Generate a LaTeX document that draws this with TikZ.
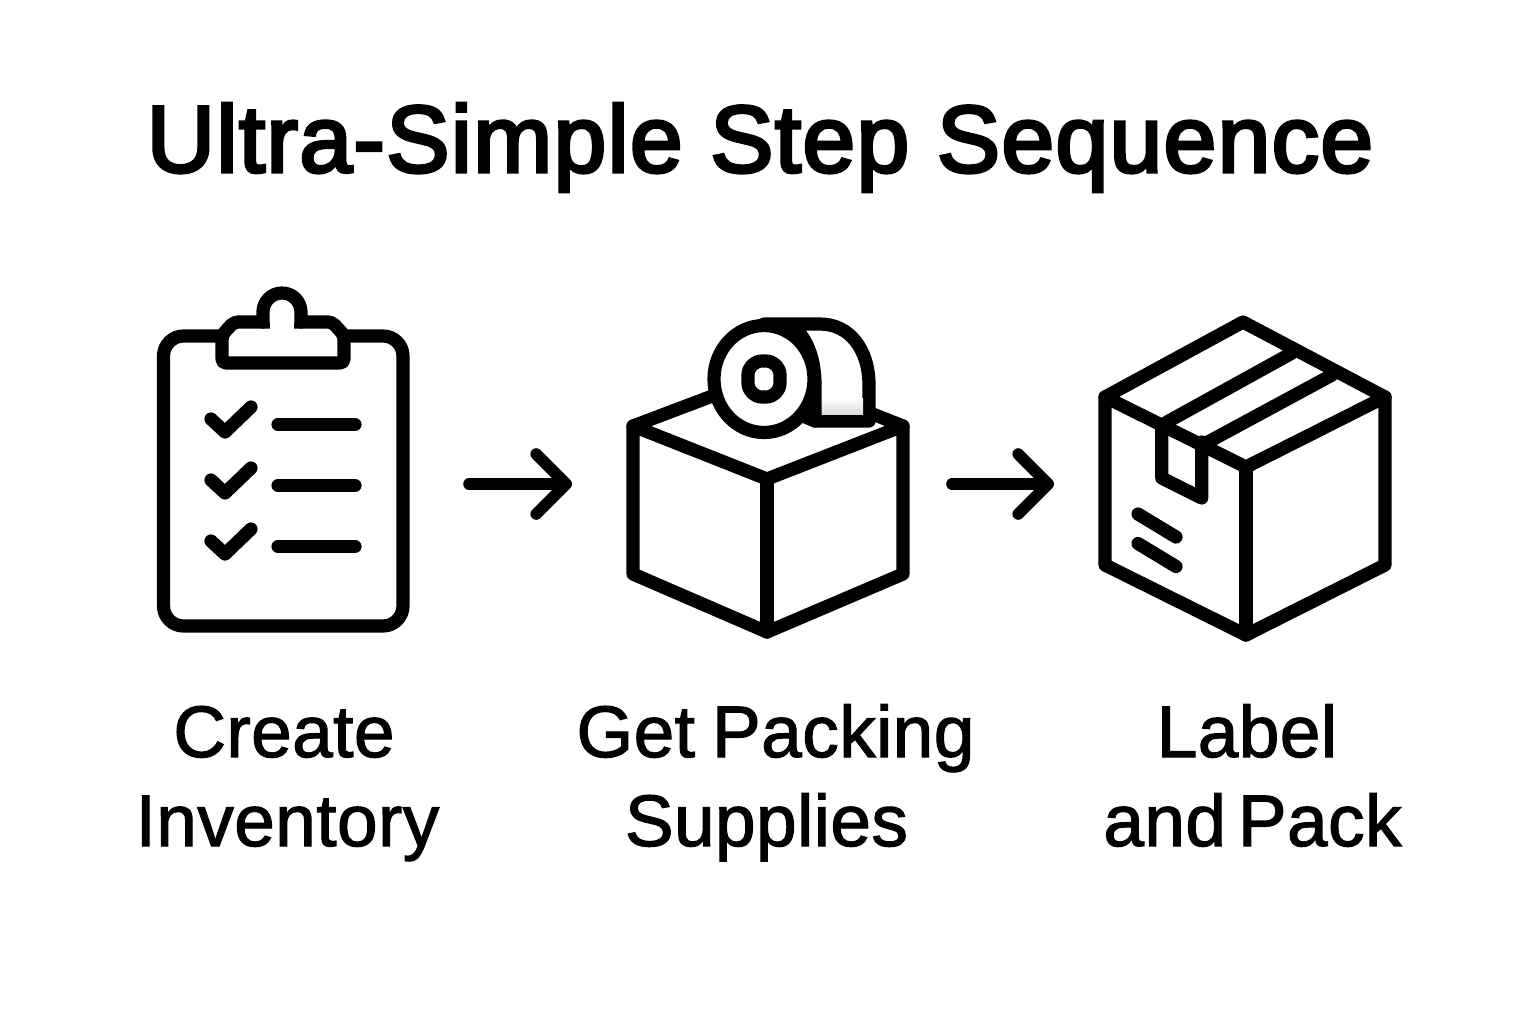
\documentclass[tikz,border=0pt]{standalone}
\usepackage{fontspec}
\setmainfont{Liberation Sans}
\newfontfamily\labelfont[FakeBold=1.6,LetterSpace=0.6]{Liberation Sans}
\newfontfamily\titlefont[FakeBold=3.5,LetterSpace=1.4]{Liberation Sans}
\usepackage{xcolor}
\usetikzlibrary{arrows.meta}

\begin{document}
\begin{tikzpicture}[x=0.5pt,y=-0.5pt,
  icon/.style={line width=6.6pt,line join=round,line cap=round,fill=white},
  stroke/.style={line width=6.6pt,line join=round,line cap=round},
  iconbox/.style={inner sep=0pt,outer sep=0pt,minimum height=150pt},
  flow/.style={line width=5.8pt,line cap=round,-{Straight Barb[round,length=15pt,width=30pt]}},
  label/.style={anchor=base,inner sep=0pt,font=\labelfont\fontsize{36.5}{36.5}\selectfont},
  headline/.style={anchor=base,inner sep=0pt,font=\titlefont\fontsize{47.4}{47.4}\selectfont}]
  \useasboundingbox (0,0) rectangle (1536,1024);

  \node[headline] (title) at (760,172) {Ultra-Simple Step Sequence};

  % invisible boxes round the three icons, the arrows run between them
  \node[iconbox,minimum width=126pt] (inv) at (283,484) {};
  \node[iconbox,minimum width=139.5pt] (sup) at (767.5,484) {};
  \node[iconbox,minimum width=145pt] (pack) at (1245,484) {};

  %% clipboard
  \draw[icon,rounded corners=10pt] (163.5,336) rectangle (403,626);
  \draw[icon,rounded corners=2pt] (222,363) -- (344,363) -- (344,335) -- (332,322)
  -- (234,322) -- (222,335) -- cycle;
  \draw[stroke,fill=white] (263,322) -- (263,312) arc[start angle=180,end angle=360,radius=19] -- (301,322);
  \fill[white] (270,316) rectangle (294,334);
  \foreach \row in {0,61,122} {
    \draw[stroke] (211,419+\row) -- (225,432+\row) -- (251,407+\row);
    \draw[stroke] (278,424.5+\row) -- (355,424.5+\row);
  }

  %% open box and tape roll
  \draw[icon] (767,479) -- (633,426) -- (633,574) -- (767,632) -- (903,574) -- (903,426) -- cycle;
  \draw[stroke] (767,479) -- (767,632);
  \draw[stroke] (633,426) -- (715,395);
  \draw[stroke] (903,426) -- (865,411);
  \draw[icon] (764,324) -- (820,324) .. controls (850,324) and (869,350) .. (869,385)
  -- (869,421) -- (815,421) -- (764,400) -- cycle;
  \shade[top color=white,bottom color=black!14] (821,398) rectangle (863,414);
  \draw[stroke] (797,330) .. controls (808,342) and (815,360) .. (815,385) -- (815,421);
  \draw[icon] (764,379) ellipse [x radius=50,y radius=53.5];
  \draw[icon,rounded corners=7pt] (748,361) rectangle (780,397);

  %% closed box
  \draw[icon] (1243,322) -- (1105,397) -- (1105,565) -- (1246,635) -- (1385,565) -- (1385,397) -- cycle;
  \draw[stroke] (1105,397) -- (1246,467) -- (1385,397);
  \draw[stroke] (1246,467) -- (1246,635);
  \draw[stroke] (1167,422) -- (1292,353);
  \draw[stroke] (1208,442) -- (1332,375);
  \draw[stroke] (1161.7,424) -- (1161.7,478) -- (1201.7,498) -- (1201.7,442);
  \draw[stroke] (1138,514) -- (1176,537);
  \draw[stroke] (1138,543.5) -- (1176,566.5);

  \draw[flow,shorten <=30pt,shorten >=28pt] (inv) -- (sup);
  \draw[flow,shorten <=22.5pt,shorten >=23pt] (sup) -- (pack);

  \node[label] (create) at (284,757) {Create};
  \node[label] (inventory) at (287.5,846) {Inventory};
  \node[label] (getpacking) at (775.5,757) {Get\hspace{-0.05em} Packing};
  \node[label] (supplies) at (766.5,846) {Supplies};
  \node[label] (lab) at (1247,757) {Label};
  \node[label] (andpack) at (1252.5,846) {and\hspace{-0.12em} Pack};
\end{tikzpicture}
\end{document}
